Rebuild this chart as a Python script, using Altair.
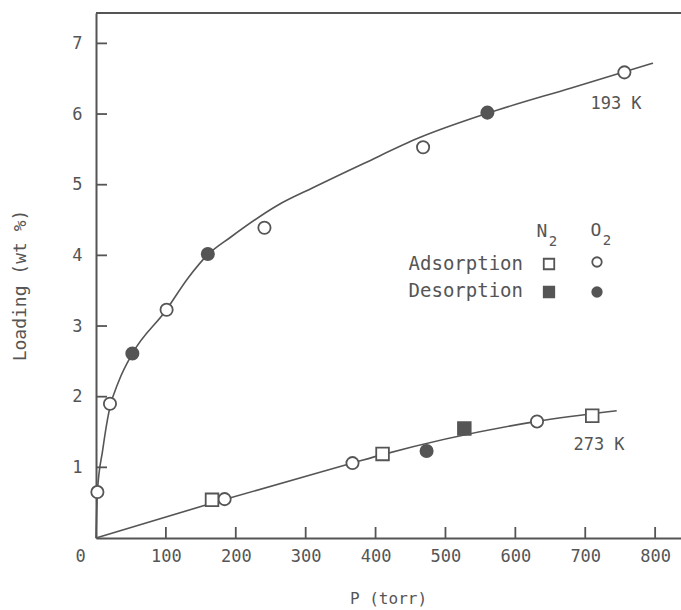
import altair as alt
import pandas as pd

# ---------------- data ----------------
# smooth isotherm curves
curve193_p = [0, 2, 9.5, 19, 33, 52, 100, 131, 160, 193, 260, 311, 383, 464, 560, 680, 797]
curve193_l = [0, 0.65, 1.24, 1.81, 2.23, 2.61, 3.22, 3.67, 4.01, 4.26, 4.71, 4.96, 5.30, 5.67, 6.01, 6.37, 6.72]
curve273_p = [0, 175, 367, 410, 631, 745]
curve273_l = [0, 0.52, 1.06, 1.18, 1.65, 1.80]

# measured points
o2_ads_p = [2, 20, 101, 241, 468, 756, 184, 367, 631]
o2_ads_l = [0.65, 1.90, 3.23, 4.39, 5.53, 6.59, 0.55, 1.06, 1.65]
o2_des_p = [52, 160, 560, 473]
o2_des_l = [2.61, 4.02, 6.02, 1.23]
n2_ads_p = [166, 410, 710]
n2_ads_l = [0.54, 1.19, 1.73]
n2_des_p = [527]
n2_des_l = [1.55]

x_ticks = [0, 100, 200, 300, 400, 500, 600, 700, 800]
y_ticks = [1, 2, 3, 4, 5, 6, 7]

# ---------------- style ----------------
INK = "#555555"
FONT = "DejaVu Sans Mono"
W, H = 585, 525
X_MAX, Y_MAX = 837.0, 7.43
TICK_PX = 11

x_scale = alt.Scale(domain=[0, X_MAX], nice=False, zero=False)
y_scale = alt.Scale(domain=[0, Y_MAX], nice=False, zero=False)

x_axis = alt.Axis(
    values=x_ticks, ticks=False, tickSize=0, grid=False, labelFlush=False,
    format="d",
    labelPadding=10, labelFontSize=17, labelFont=FONT, labelColor=INK,
    labelOffset={"condition": {"test": "datum.value == 0", "value": -16}, "value": 0},
    domainColor=INK, domainWidth=2,
    title="P (torr)", titleFont=FONT, titleFontSize=16, titleFontWeight="normal",
    titleColor=INK, titleX=292, titleY=60, titleBaseline="middle", titleAlign="center",
)
y_axis = alt.Axis(
    values=y_ticks, ticks=False, tickSize=0, grid=False, labelFlush=False,
    format="d",
    labelPadding=14, labelFontSize=17, labelFont=FONT, labelColor=INK,
    domainColor=INK, domainWidth=2,
    title="Loading (wt %)", titleFont=FONT, titleFontSize=18, titleFontWeight="normal",
    titleColor=INK, titleX=-76, titleY=272, titleBaseline="middle", titleAlign="center",
)

curves = pd.DataFrame(
    {"P": curve193_p + curve273_p,
     "L": curve193_l + curve273_l,
     "T": ["193"] * len(curve193_p) + ["273"] * len(curve273_p)}
)

lines = alt.Chart(curves).mark_line(
    interpolate="monotone", color=INK, strokeWidth=1.6
).encode(
    x=alt.X("P:Q", scale=x_scale, axis=x_axis),
    y=alt.Y("L:Q", scale=y_scale, axis=y_axis),
    detail="T:N",
)


def pts(p, l, shape, filled):
    df = pd.DataFrame({"P": p, "L": l})
    return alt.Chart(df).mark_point(
        shape=shape, size=150 if shape == "circle" else 160,
        filled=filled, fill=INK if filled else "white", fillOpacity=1,
        stroke=INK, strokeWidth=1.8, opacity=1,
    ).encode(
        x=alt.X("P:Q", scale=x_scale),
        y=alt.Y("L:Q", scale=y_scale),
    )


points = [
    pts(o2_ads_p, o2_ads_l, "circle", False),
    pts(n2_ads_p, n2_ads_l, "square", False),
    pts(o2_des_p, o2_des_l, "circle", True),
    pts(n2_des_p, n2_des_l, "square", True),
]

# inward tick marks, drawn as short two-point segments through the scales
tick_rows = []
dy = TICK_PX * Y_MAX / H
dx = TICK_PX * X_MAX / W
for v in x_ticks[1:]:
    tick_rows.append({"P": float(v), "L": 0.0, "id": f"x{v}"})
    tick_rows.append({"P": float(v), "L": dy, "id": f"x{v}"})
for v in y_ticks:
    tick_rows.append({"P": 0.0, "L": float(v), "id": f"y{v}"})
    tick_rows.append({"P": dx, "L": float(v), "id": f"y{v}"})
ticks = alt.Chart(pd.DataFrame(tick_rows)).mark_line(
    color=INK, strokeWidth=1.8
).encode(
    x=alt.X("P:Q", scale=x_scale),
    y=alt.Y("L:Q", scale=y_scale),
    detail="id:N",
)

one = pd.DataFrame({"a": [0]})
frame_top = alt.Chart(one).mark_rule(color=INK, strokeWidth=2).encode(
    x=alt.value(0), x2=alt.value(W), y=alt.value(0)
)


def txt(s, x, y, size=17, align="center"):
    return alt.Chart(one).mark_text(
        text=s, font=FONT, fontSize=size, color=INK, align=align, baseline="middle"
    ).encode(x=alt.value(x), y=alt.value(y))


def sym(x, y, shape, filled):
    return alt.Chart(one).mark_point(
        shape=shape, size=110 if shape == "square" else 90,
        filled=filled, fill=INK if filled else "white", fillOpacity=1,
        stroke=INK, strokeWidth=1.8, opacity=1,
    ).encode(x=alt.value(x), y=alt.value(y))


annotations = [
    txt("193 K", 520, 91),
    txt("273 K", 503, 432),
    txt("N", 446, 219, size=18),
    txt("2", 457, 229, size=14),
    txt("O", 500, 218, size=18),
    txt("2", 511, 228, size=14),
    txt("Adsorption", 427, 251, size=19, align="right"),
    txt("Desorption", 427, 278, size=19, align="right"),
    sym(453, 251, "square", False),
    sym(501, 249, "circle", False),
    sym(453, 279, "square", True),
    sym(501, 279, "circle", True),
]

chart = alt.layer(
    lines, ticks, frame_top, *points, *annotations
).properties(
    width=W, height=H,
    padding={"left": 96, "top": 13, "right": 0, "bottom": 72},
    autosize=alt.AutoSizeParams(type="none"),
    background="white",
).configure_view(stroke=None)

chart.save("out.html", embed_options={"renderer": "svg", "actions": False})
